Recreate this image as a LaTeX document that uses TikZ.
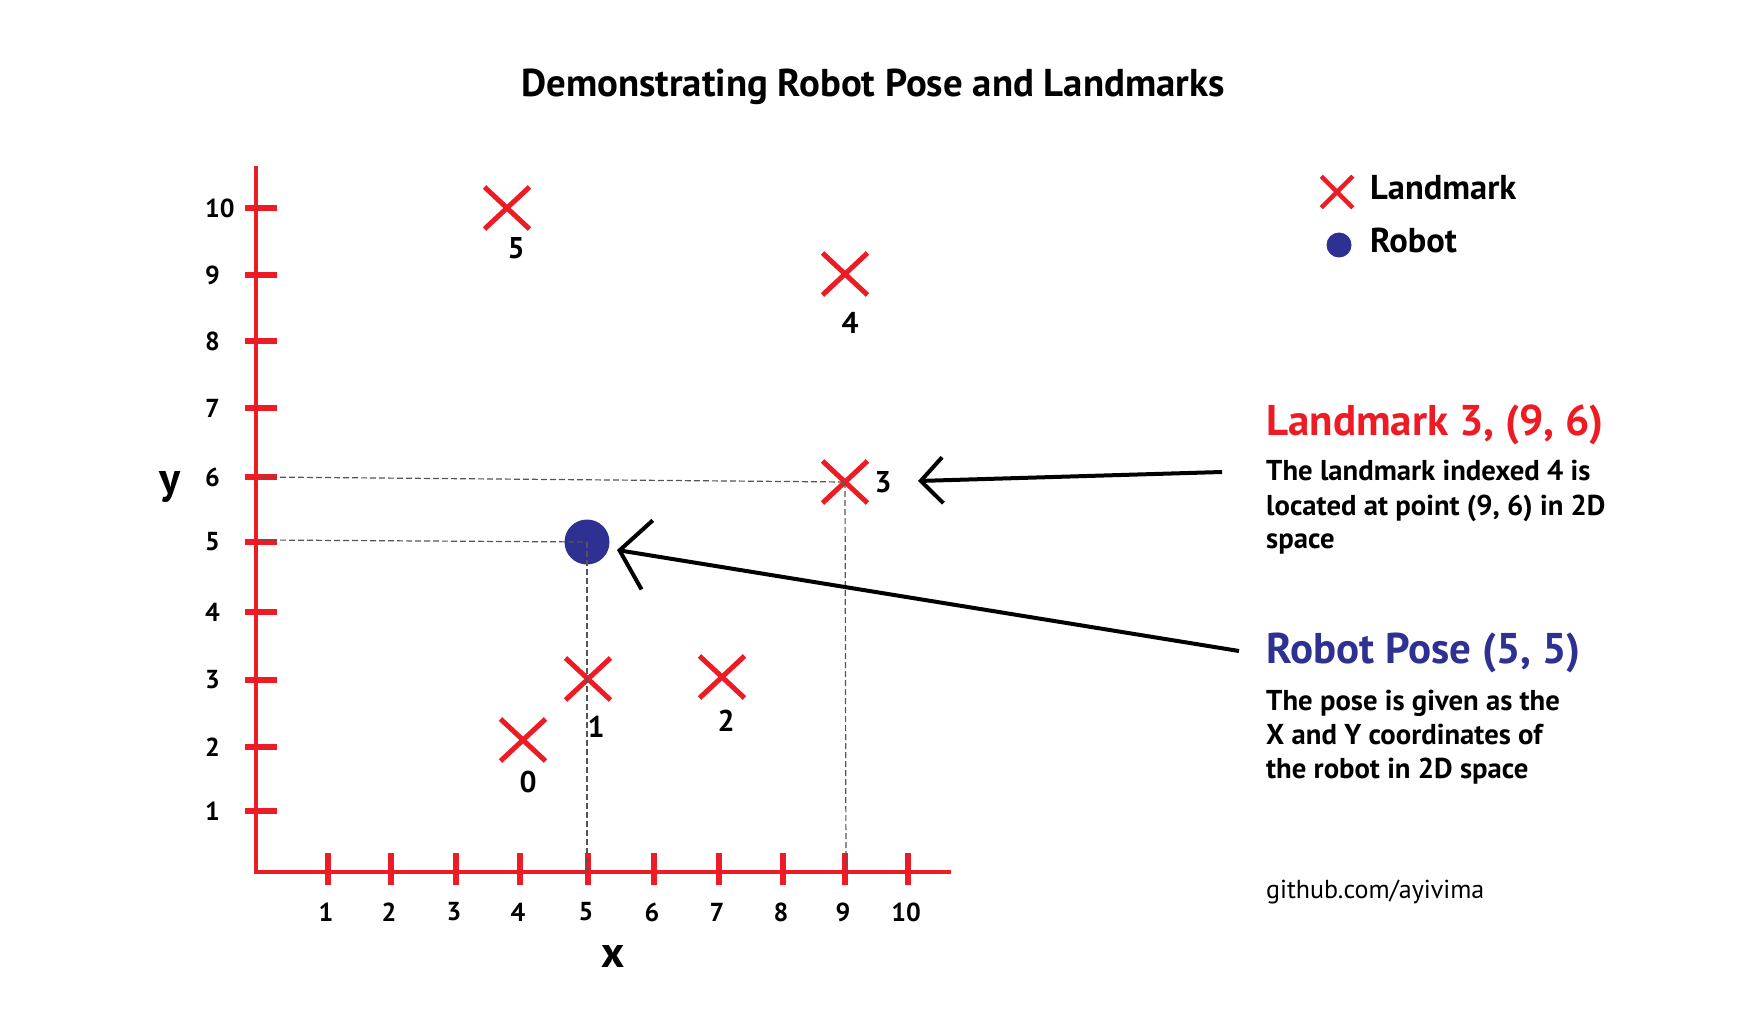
\documentclass[tikz,border=0pt]{standalone}
\usepackage{fontspec}
\setmainfont{PT Sans}
\usetikzlibrary{arrows.meta,shapes.misc}
\definecolor{lmred}{HTML}{ED1C24}
\definecolor{robotblue}{HTML}{2E3192}
\definecolor{guidegray}{HTML}{555555}
\begin{document}
\begin{tikzpicture}[x=1pt,y=-1pt,
  axisline/.style={draw=lmred,line width=3.5pt},
  axtick/.style={draw=lmred,line width=6pt},
  lmk/.style={cross out,draw=lmred,line width=5pt,minimum width=40pt,minimum height=37pt,inner sep=0pt},
  lgdlmk/.style={cross out,draw=lmred,line width=4.5pt,minimum width=27pt,minimum height=27pt,inner sep=0pt},
  ticklbl/.style={font=\fontsize{26}{26}\selectfont\bfseries,inner sep=0pt},
  lmklbl/.style={font=\fontsize{30}{30}\selectfont\bfseries,inner sep=0pt},
  axlbl/.style={font=\fontsize{44}{44}\selectfont\bfseries,inner sep=0pt},
  guide/.style={draw=guidegray,line width=1.2pt,dash pattern=on 6pt off 3pt},
  pointer/.style={draw=black,line width=4pt},
  headred/.style={anchor=base west,inner sep=0pt,text=lmred,font=\fontsize{43}{43}\selectfont\bfseries},
  headblue/.style={anchor=base west,inner sep=0pt,text=robotblue,font=\fontsize{43}{43}\selectfont\bfseries},
  bodytxt/.style={anchor=base west,inner sep=0pt,font=\fontsize{28.7}{28.7}\selectfont\bfseries},
  lgdtxt/.style={anchor=base west,inner sep=0pt,font=\fontsize{34.5}{34.5}\selectfont\bfseries}
]
\useasboundingbox[fill=white] (0,0) rectangle (1758,1032);

% title
\node[anchor=base,inner sep=0pt,font=\fontsize{38.8}{38.8}\selectfont\bfseries] (title) at (873,97) {Demonstrating Robot Pose and Landmarks};

% axes
\coordinate (ytop) at (256,166);
\coordinate (orig) at (256,872);
\coordinate (xend) at (951,872);
\draw[axisline,line join=miter] (ytop) -- (orig) -- (xend);

% y ticks
\foreach \j/\yy in {1/811,2/747,3/680,4/612,5/542,6/477,7/408,8/341,9/275,10/208}{
  \draw[axtick] (245,\yy) -- (277,\yy);
  \node[ticklbl,anchor=west] (ylab\j) at (205,\yy) {\j};
}
% x ticks
\foreach \i/\xx in {1/328,2/391,3/456,4/520,5/588,6/654,7/719,8/783,9/845,10/908}{
  \draw[axtick] (\xx,853) -- (\xx,885);
  \node[ticklbl] (xlab\i) at (\xx-2,912) {\i};
}
\node[axlbl,anchor=base] (ylbl) at (170,493) {y};
\node[axlbl,anchor=base] (xlbl) at (613,967) {x};

% robot
\node[circle,fill=robotblue,minimum size=45pt,inner sep=0pt] (robot) at (587,542) {};

% landmarks
\node[lmk] (l0) at (523,740) {};
\node[lmk] (l1) at (588,679) {};
\node[lmk] (l2) at (722,677) {};
\node[lmk] (l3) at (845,482) {};
\node[lmk] (l4) at (845,274) {};
\node[lmk] (l5) at (507,208) {};
\node[lmklbl] (n0) at (528,782) {0};
\node[lmklbl] (n1) at (596,727) {1};
\node[lmklbl] (n2) at (726,721) {2};
\node[lmklbl] (n3) at (883,482) {3};
\node[lmklbl] (n4) at (850,323) {4};
\node[lmklbl] (n5) at (516,248) {5};

% guide lines
\coordinate (gy6) at (262,477);
\coordinate (gy5) at (262,540);
\coordinate (gx5) at (587,872);
\coordinate (gx9) at (846,872);
\draw[guide] (gy6) -- (l3.center);
\draw[guide] (gy5) -- (robot.center);
\draw[guide] (robot.center) -- (gx5);
\draw[guide] (l3.center) -- (gx9);

% pointers
\coordinate (p1s) at (1222,472);
\coordinate (p1e) at (918,481);
\coordinate (p2s) at (1239,651);
\coordinate (p2e) at (617,550);
\draw[pointer,-{Straight Barb[length=22pt,width=46pt]}] (p1s) -- (p1e);
\draw[pointer,-{Straight Barb[length=28pt,width=70pt]}] (p2s) -- (p2e);

% legend
\node[lgdlmk] (lgl) at (1337,192) {};
\node[circle,fill=robotblue,minimum size=25pt,inner sep=0pt] (lgr) at (1339,245) {};
\node[lgdtxt] (lgltxt) at (1370,200) {Landmark};
\node[lgdtxt] (lgrtxt) at (1370,253) {Robot};

% right text
\node[headred] (h1) at (1266,435) {Landmark 3, (9, 6)};
\node[bodytxt] (b11) at (1266,480) {The landmark indexed 4 is};
\node[bodytxt] (b12) at (1266,515) {located at point (9, 6) in 2D};
\node[bodytxt] (b13) at (1266,548) {space};

\node[headblue] (h2) at (1266,663) {Robot Pose (5, 5)};
\node[bodytxt] (b21) at (1266,710) {The pose is given as the};
\node[bodytxt] (b22) at (1266,744) {X and Y coordinates of};
\node[bodytxt] (b23) at (1266,778) {the robot in 2D space};

\node[anchor=base west,inner sep=0pt,font=\fontsize{26}{26}\selectfont] (gh) at (1266,898) {github.com/ayivima};
\end{tikzpicture}
\end{document}
